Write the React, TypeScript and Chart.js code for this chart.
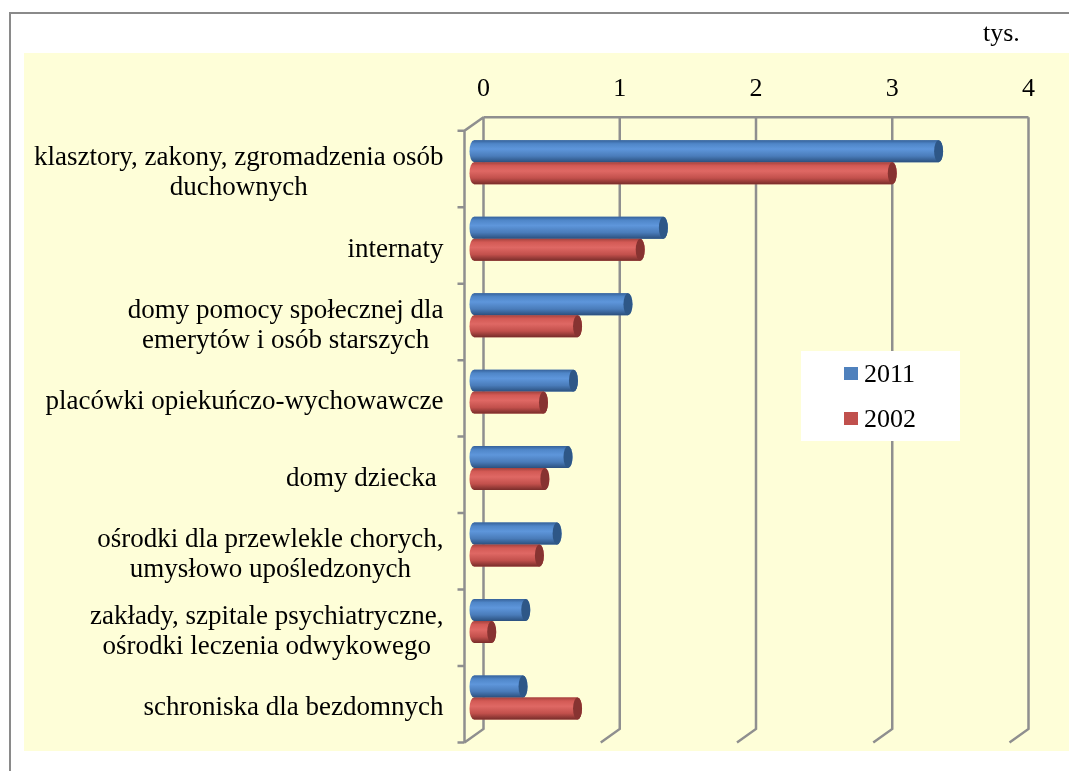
import { useEffect, useRef } from "react";
import { Chart, registerables } from "chart.js";

Chart.register(...registerables);

// ---- data ----
const categories: string[][] = [
  ["klasztory, zakony, zgromadzenia osób", "duchownych"],
  ["internaty"],
  ["domy pomocy społecznej dla", "emerytów i osób starszych"],
  ["placówki opiekuńczo-wychowawcze"],
  ["domy dziecka "],
  ["ośrodki dla przewlekle chorych,", "umysłowo upośledzonych"],
  ["zakłady, szpitale psychiatryczne,", "ośrodki leczenia odwykowego"],
  ["schroniska dla bezdomnych"],
];
const series2011 = [3.41, 1.39, 1.13, 0.73, 0.69, 0.61, 0.38, 0.36];
const series2002 = [3.07, 1.22, 0.76, 0.51, 0.52, 0.48, 0.13, 0.76];
const seriesNames = ["2011", "2002"];
const xTickValues = [0, 1, 2, 3, 4];
const unitLabel = "tys.";

// ---- styles ----
const FONT = '"Liberation Serif", "Times New Roman", serif';
const seriesColors = ["#4F81BD", "#C0504D"];
const bodyStops = [
  [
    [0, "#36629A"],
    [0.16, "#4F86C8"],
    [0.4, "#5E96DB"],
    [0.72, "#4A7CBA"],
    [1, "#2B507E"],
  ],
  [
    [0, "#A4423E"],
    [0.16, "#D35A55"],
    [0.4, "#DF6864"],
    [0.72, "#C2504C"],
    [1, "#782D2A"],
  ],
];
const capColors = ["#2E5787", "#873331"];
const DX = 9.5;
const DY = 6.75;

const decorPlugin = {
  id: "decor",
  beforeDraw(chart: any) {
    const c = chart.ctx as CanvasRenderingContext2D;
    c.save();
    c.fillStyle = "#ffffff";
    c.fillRect(0, 0, chart.width, chart.height);
    c.fillStyle = "#FEFED8";
    c.fillRect(24, 53, chart.width - 24, 698);
    c.strokeStyle = "#8a8a8a";
    c.lineWidth = 2;
    c.beginPath();
    c.moveTo(10, chart.height);
    c.lineTo(10, 13);
    c.lineTo(chart.width, 13);
    c.stroke();
    c.fillStyle = "#000";
    c.font = `26px ${FONT}`;
    c.textAlign = "left";
    c.textBaseline = "middle";
    c.fillText(unitLabel, 983, 34);
    c.restore();
  },
  beforeDatasetsDraw(chart: any) {
    const c = chart.ctx as CanvasRenderingContext2D;
    const xs = chart.scales.x;
    const ys = chart.scales.y;
    const { top, bottom } = chart.chartArea;
    const x0 = xs.getPixelForValue(xTickValues[0]);
    const xN = xs.getPixelForValue(xTickValues[xTickValues.length - 1]);
    c.save();
    c.strokeStyle = "#8f8f8f";
    c.lineWidth = 2.5;
    c.beginPath();
    xTickValues.forEach((v) => {
      const X = xs.getPixelForValue(v);
      c.moveTo(X + DX, top - DY);
      c.lineTo(X + DX, bottom - DY);
      c.lineTo(X - DX, bottom + DY);
    });
    c.moveTo(x0 + DX, top - DY);
    c.lineTo(xN + DX, top - DY);
    c.moveTo(x0 + DX, top - DY);
    c.lineTo(x0 - DX, top + DY);
    c.lineTo(x0 - DX, bottom + DY);
    for (let k = 0; k <= categories.length; k++) {
      const y = ys.getPixelForValue(k - 0.5) + DY;
      c.moveTo(x0 - DX - 7, y);
      c.lineTo(x0 - DX, y);
    }
    c.stroke();
    c.restore();
  },
  afterDatasetsDraw(chart: any) {
    const c = chart.ctx as CanvasRenderingContext2D;
    c.save();
    chart.data.datasets.forEach((_ds: any, di: number) => {
      const meta = chart.getDatasetMeta(di);
      meta.data.forEach((el: any) => {
        const { x, y, base, height } = el.getProps(["x", "y", "base", "height"], true);
        const h = height;
        const t = y - h / 2;
        const b = y + h / 2;
        const rx = 4.5;
        const ry = h / 2;
        const g = c.createLinearGradient(0, t, 0, b);
        bodyStops[di].forEach(([o, col]) => g.addColorStop(o as number, col as string));
        c.beginPath();
        c.moveTo(base, t);
        c.lineTo(x, t);
        c.ellipse(x, y, rx, ry, 0, -Math.PI / 2, Math.PI / 2, false);
        c.lineTo(base, b);
        c.ellipse(base, y, rx, ry, 0, Math.PI / 2, (3 * Math.PI) / 2, false);
        c.closePath();
        c.fillStyle = g;
        c.fill();
        c.beginPath();
        c.ellipse(x, y, rx, ry, 0, 0, Math.PI * 2);
        c.fillStyle = capColors[di];
        c.fill();
      });
    });
    c.restore();
  },
  afterDraw(chart: any) {
    const c = chart.ctx as CanvasRenderingContext2D;
    const xs = chart.scales.x;
    const ys = chart.scales.y;
    const x0 = xs.getPixelForValue(xTickValues[0]);
    c.save();
    c.font = `27px ${FONT}`;
    c.fillStyle = "#000";
    c.textBaseline = "middle";
    c.textAlign = "center";
    const right = x0 - DX - 21;
    const lh = 30;
    categories.forEach((lines, i) => {
      const cy = ys.getPixelForValue(i) + DY + 4;
      const w = Math.max(...lines.map((l) => c.measureText(l).width));
      const cx = right - w / 2;
      lines.forEach((l, j) => {
        c.fillText(l, cx, cy + (j - (lines.length - 1) / 2) * lh);
      });
    });
    // legend
    c.font = `26px ${FONT}`;
    c.fillStyle = "#ffffff";
    c.fillRect(801, 351, 159, 90);
    c.textAlign = "left";
    const legendY = [375, 420];
    chart.data.datasets.forEach((ds: any, di: number) => {
      c.fillStyle = ds.backgroundColor;
      c.fillRect(844, legendY[di] - 8, 14, 13);
      c.fillStyle = "#000";
      c.fillText(ds.label, 864, legendY[di]);
    });
    c.restore();
  },
};

export default function App() {
  const ref = useRef<HTMLCanvasElement | null>(null);
  useEffect(() => {
    document.body.style.margin = "0";
    const canvas = ref.current!;
    const chart = new Chart(canvas, {
      type: "bar",
      data: {
        labels: categories,
        datasets: [
          { label: seriesNames[0], data: series2011, backgroundColor: seriesColors[0] },
          { label: seriesNames[1], data: series2002, backgroundColor: seriesColors[1] },
        ],
      },
      options: {
        indexAxis: "y",
        responsive: false,
        animation: false,
        devicePixelRatio: 1,
        layout: { padding: { left: 0, top: 0, right: 50, bottom: 35.3 } },
        datasets: { bar: { categoryPercentage: 0.575, barPercentage: 1 } },
        plugins: { legend: { display: false }, tooltip: { enabled: false } },
        scales: {
          x: {
            type: "linear",
            position: "top",
            min: 0,
            max: 4,
            grid: { display: false, drawTicks: false, tickLength: 0 },
            border: { display: false },
            ticks: {
              stepSize: 1,
              padding: 19,
              labelOffset: DX,
              color: "#000",
              font: { family: FONT, size: 26 },
            },
            afterFit: (s: any) => {
              s.height = 124;
            },
          },
          y: {
            type: "category",
            grid: { display: false, drawTicks: false },
            border: { display: false },
            ticks: { display: false },
            afterFit: (s: any) => {
              s.width = 474;
            },
          },
        },
      },
      plugins: [decorPlugin],
    } as any);
    return () => chart.destroy();
  }, []);
  return (
    <canvas
      ref={ref}
      width={1069}
      height={771}
      style={{ display: "block", width: "1069px", height: "771px" }}
    />
  );
}
